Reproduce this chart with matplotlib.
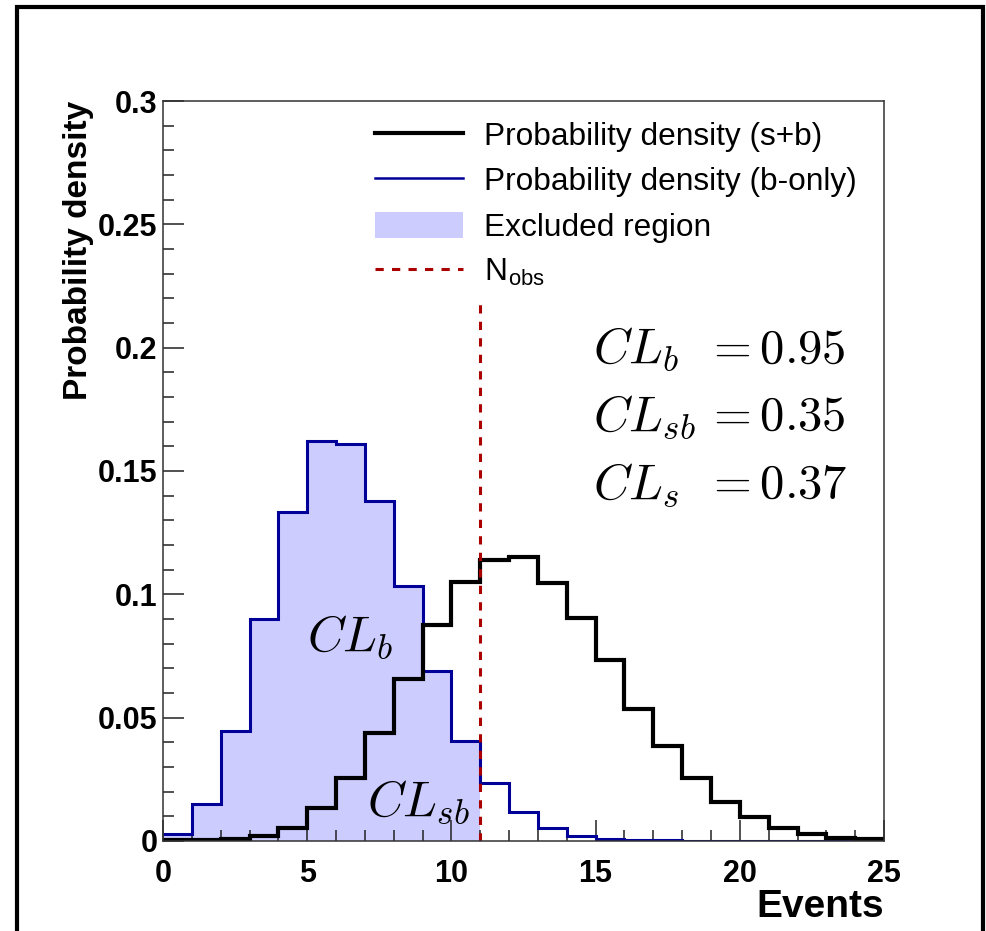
import matplotlib
matplotlib.use('Agg')
import matplotlib.pyplot as plt
import numpy as np
from matplotlib.lines import Line2D
from matplotlib.patches import Patch, Rectangle

plt.rcParams['font.family'] = ['Liberation Sans', 'DejaVu Sans']
plt.rcParams['mathtext.fontset'] = 'cm'

# histogram bin edges (events)
edges = np.arange(0, 26, 1)

# s+b probability density per bin
sb_density = [0.0003, 0.0004, 0.001, 0.002, 0.0054, 0.0133, 0.0257, 0.0437,
               0.0658, 0.0877, 0.1051, 0.1139, 0.115, 0.1047, 0.0903, 0.0734,
               0.0536, 0.0385, 0.0254, 0.0157, 0.0099, 0.0051, 0.0027, 0.0014,
               0.0007]

# b-only probability density per bin
b_density = [0.0028, 0.0149, 0.0447, 0.0899, 0.1332, 0.1621, 0.1611, 0.1377,
             0.1035, 0.069, 0.0407, 0.0234, 0.0119, 0.0054, 0.0022, 0.0008,
             0.0004, 0.0002, 0.0001, 0.0001, 0.0001, 0.0001, 0.0001, 0.0,
             0.0]

n_obs = 11
cl_names = ['CL_b', 'CL_{sb}', 'CL_s']
cl_values = [0.95, 0.35, 0.37]

fig = plt.figure(figsize=(9.86, 9.31), dpi=100)
ax = fig.add_axes([0.1653, 0.0967, 0.7313, 0.7948])

blue = '#000099'
fill_col = '#ccccff'
red = '#aa0000'

# excluded region: b-only below n_obs
mask = edges[:-1] < n_obs
ax.stairs(np.array(b_density)[mask], edges[:n_obs + 1], fill=True,
          color=fill_col, linewidth=0, zorder=1)
ax.stairs(b_density, edges, baseline=None, color=blue, linewidth=2.2, zorder=2)
ax.stairs(sb_density, edges, baseline=None, color='black', linewidth=3, zorder=3)
ax.plot([n_obs, n_obs], [0, 0.219], color=red, linewidth=2.2,
        dashes=(2.7, 2.7), zorder=4)

ax.set_xlim(0, 25)
ax.set_ylim(0, 0.3)
ax.set_xticks([0, 5, 10, 15, 20, 25])
ax.set_xticks(np.arange(0, 26, 1), minor=True)
ax.set_yticks([0, 0.05, 0.1, 0.15, 0.2, 0.25, 0.3])
ax.set_yticklabels(['0', '0.05', '0.1', '0.15', '0.2', '0.25', '0.3'])
ax.set_yticks(np.arange(0, 0.301, 0.01), minor=True)
ax.tick_params(which='both', direction='in', top=False, right=False,
               width=1.1, color='#222222', zorder=5)
ax.tick_params(which='major', length=15, labelsize=22)
ax.tick_params(which='minor', length=8)
ax.tick_params(axis='x', which='major', pad=13)
ax.tick_params(axis='y', which='major', pad=4)
for lab in ax.get_xticklabels() + ax.get_yticklabels():
    lab.set_fontweight('bold')
for sp in ax.spines.values():
    sp.set_linewidth(1.1)
    sp.set_color('#333333')
    sp.set_zorder(6)

ax.set_xlabel('Events', fontsize=28, fontweight='bold', loc='right')
ax.xaxis.set_label_coords(1.0, -0.065)
ax.set_ylabel('Probability density', fontsize=24, fontweight='bold', loc='top')
ax.yaxis.set_label_coords(-0.095, 1.0)

handles = [Line2D([], [], color='black', linewidth=3),
           Line2D([], [], color=blue, linewidth=1.8),
           Patch(facecolor=fill_col, edgecolor='none'),
           Line2D([], [], color=red, linewidth=2.2, dashes=(2.7, 2.7))]
labels = ['Probability density (s+b)', 'Probability density (b-only)',
          'Excluded region', 'N$_{\\mathregular{obs}}$']
ax.legend(handles, labels, loc='upper left', bbox_to_anchor=(0.276, 0.99),
          frameon=False, fontsize=22.8, handlelength=2.8, handleheight=0.9,
          handletextpad=0.66, labelspacing=0.45, borderaxespad=0)

# CL summary on the right
ys = [0.194, 0.1666, 0.139]
for name, val, y in zip(cl_names, cl_values, ys):
    ax.text(14.9, y, '$' + name + '$', fontsize=36, va='baseline', ha='left')
    ax.text(18.8, y, '$=%.2f$' % val, fontsize=35, va='baseline', ha='left')

ax.text(5.0, 0.0774, '$CL_b$', fontsize=36, va='baseline', ha='left', zorder=7)
ax.text(7.07, 0.0105, '$CL_{sb}$', fontsize=36, va='baseline', ha='left', zorder=7)

# outer frame
fig.patches.append(Rectangle((0.0172, -0.05), 0.9797, 1.0425, fill=False,
                             edgecolor='black', linewidth=3,
                             transform=fig.transFigure))

fig.savefig('out.png', dpi=100)
